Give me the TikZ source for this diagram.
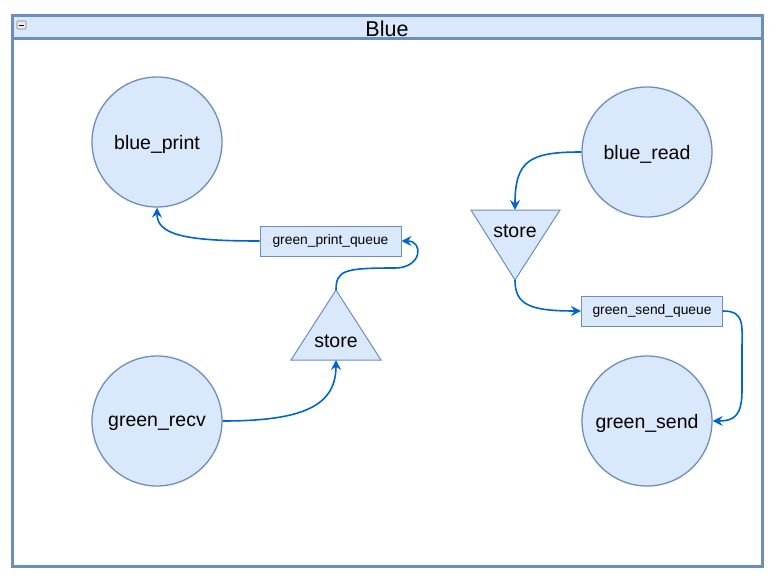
\documentclass[tikz,border=0pt]{standalone}
\usepackage{fontspec}
\setmainfont{Liberation Sans}
\usetikzlibrary{arrows.meta}
\definecolor{fillblue}{HTML}{DAE8FC}
\definecolor{lineblue}{HTML}{6C8EBF}
\definecolor{linkblue}{HTML}{0066CC}
\tikzset{proc/.style={circle, draw=lineblue, fill=fillblue, line width=1.3pt, minimum size=130pt, inner sep=0pt, text depth=0pt, font=\fontsize{19.5}{22}\selectfont},
  queue/.style={rectangle, draw=lineblue, fill=fillblue, line width=1pt, minimum width=141pt, minimum height=30pt, inner sep=0pt, font=\fontsize{13.8}{16}\selectfont},
  tri/.style={draw=lineblue, fill=fillblue, line width=1pt},
  lbl/.style={font=\fontsize{19.5}{22}\selectfont, inner sep=0pt},
  link/.style={draw=linkblue, line width=1.6pt, -{Stealth[length=10pt,width=10pt,inset=3.5pt]}}}

\begin{document}
\begin{tikzpicture}[x=1pt,y=-1pt]
   \useasboundingbox (0,0) rectangle (780,578);
   \begin{scope}
    \draw[lineblue, line width=3pt, fill=white] (12,16) rectangle (762,566);
    \draw[lineblue, line width=3pt, fill=fillblue] (12,16) rectangle (762,39);
    \node[font=\fontsize{21.5}{24}\selectfont, inner sep=0pt] (title) at (387,29) {Blue};
    \node[draw=gray, fill=gray!15, rounded corners=1pt, minimum width=9pt, minimum height=8pt, inner sep=0pt, line width=0.6pt] (fold) at (21.5,25) {};
    \draw[black, line width=0.9pt] ([xshift=2pt]fold.west) -- ([xshift=-2pt]fold.east);
   \end{scope}
   \begin{scope}
    \node[proc] (blueprint) at (157,142) {blue\_print};
    \node[proc] (blueread) at (647,152) {blue\_read};
    \node[proc] (greenrecv) at (157,421) {green\_recv};
    \node[proc] (greensend) at (647,421) {green\_send};
    \node[queue] (printqueue) at (330.5,241) {green\_print\_queue};
    \node[queue] (sendqueue) at (652,311) {green\_send\_queue};
   \end{scope}
   \begin{scope}
    \coordinate (storeAtop) at (336,290);
    \coordinate (storeAleft) at (291,360);
    \coordinate (storeAright) at (381,360);
    \coordinate (storeAbase) at (336,360);
    \draw[tri] (storeAtop) -- (storeAright) -- (storeAleft) -- cycle;
    \node[lbl] (storeA) at (336,341) {store};
    \coordinate (storeBtip) at (515,280);
    \coordinate (storeBleft) at (471,210);
    \coordinate (storeBright) at (560,210);
    \coordinate (storeBtop) at (515,210);
    \draw[tri] (storeBtip) -- (storeBright) -- (storeBleft) -- cycle;
    \node[lbl] (storeB) at (515,231) {store};
   \end{scope}
   \begin{scope}
    \draw[link] (blueread.west) .. controls (530,152) and (515,160) .. (storeBtop);
    \draw[link] (storeBtip) .. controls (515,305) and (530,311) .. (sendqueue.west);
    \draw[link] (sendqueue.east) .. controls (745,311) and (742,325) .. (742,350) -- (742,390) .. controls (742,415) and (735,421) .. (greensend.east);
    \draw[link] (greenrecv.east) .. controls (305,421) and (336,405) .. (storeAbase);
    \draw[link] (storeAtop) .. controls (336,270) and (345,268) .. (395,268) .. controls (422,268) and (424,241) .. (printqueue.east);
    \draw[link] (printqueue.west) .. controls (185,241) and (157,235) .. (blueprint.south);
   \end{scope}
\end{tikzpicture}
\end{document}
